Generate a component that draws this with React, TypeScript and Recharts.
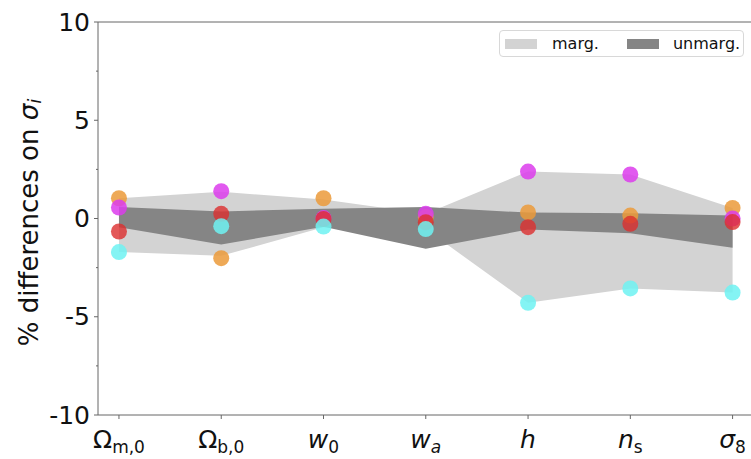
import { Area, ComposedChart, ReferenceLine, Scatter, XAxis, YAxis } from "recharts"

const tickMain = ["Ω", "Ω", "w", "w", "h", "n", "σ"]
const tickSub = ["m,0", "b,0", "0", "a", "", "s", "8"]
const mainItalic = [false, false, true, true, true, true, true]
const subItalic = [false, false, false, true, false, false, false]

const orange = [1.03, -2.02, 1.03, 0.07, 0.31, 0.15, 0.54]
const magenta = [0.56, 1.39, 0.02, 0.24, 2.39, 2.24, 0.0]
const red = [-0.66, 0.24, -0.02, -0.19, -0.44, -0.27, -0.18]
const cyan = [-1.71, -0.39, -0.41, -0.54, -4.29, -3.56, -3.77]

const margLow = [-1.71, -1.9, -0.45, -0.54, -4.29, -3.56, -3.77]
const margHigh = [1.03, 1.36, 0.97, 0.24, 2.39, 2.24, 0.54]
const unmargLow = [-0.44, -1.32, -0.42, -1.54, -0.56, -0.75, -1.49]
const unmargHigh = [0.58, 0.36, 0.5, 0.58, 0.3, 0.27, 0.15]

const yTicks = [-10, -7.5, -5, -2.5, 0, 2.5, 5, 7.5, 10]

const data = tickMain.map((_, i) => ({
  idx: i,
  marg: [margLow[i], margHigh[i]],
  unmarg: [unmargLow[i], unmargHigh[i]],
  orange: orange[i],
  magenta: magenta[i],
  red: red[i],
  cyan: cyan[i],
}))

const FONT = "DejaVu Sans, sans-serif"
const AXIS = "#666666"

function dot(color: string, opacity: number) {
  return (props: any) => (
    <circle cx={props.cx} cy={props.cy} r={8} fill={color} fillOpacity={opacity} />
  )
}

function YTick(props: any) {
  const { x, y, payload } = props
  const v = payload.value
  const major = v % 5 === 0
  return (
    <g>
      <line x1={x - (major ? 4 : 2)} x2={x} y1={y} y2={y} stroke={AXIS} strokeWidth={1} />
      {major && (
        <text x={x - 8} y={y} textAnchor="end" dominantBaseline="central" fontSize={25} fontFamily={FONT} fill="#111">
          {v}
        </text>
      )}
    </g>
  )
}

function XTick(props: any) {
  const { x, y, payload } = props
  const i = payload.value
  return (
    <g>
      <line x1={x} x2={x} y1={y} y2={y + 4} stroke={AXIS} strokeWidth={1} />
      <text x={x} y={y + 33} textAnchor="middle" fontSize={25} fontFamily={FONT} fill="#111">
        <tspan fontStyle={mainItalic[i] ? "italic" : "normal"}>{tickMain[i]}</tspan>
        {tickSub[i] && (
          <tspan fontSize={17} dy={5} fontStyle={subItalic[i] ? "italic" : "normal"}>
            {tickSub[i]}
          </tspan>
        )}
      </text>
    </g>
  )
}

function LegendBox() {
  return (
    <div
      style={{
        position: "absolute",
        top: 30,
        left: 499,
        width: 245,
        height: 27,
        border: "1px solid #d8d8d8",
        borderRadius: 4,
        background: "#fff",
        display: "flex",
        alignItems: "center",
        fontFamily: FONT,
        fontSize: 16,
        color: "#111",
        boxSizing: "border-box",
      }}
    >
      <span style={{ width: 32, height: 10, background: "#d3d3d3", marginLeft: 5 }} />
      <span style={{ marginLeft: 15 }}>marg.</span>
      <span style={{ width: 32, height: 10, background: "#858585", marginLeft: 28 }} />
      <span style={{ marginLeft: 14 }}>unmarg.</span>
    </div>
  )
}

export default function App() {
  return (
    <div style={{ position: "relative", width: 751, height: 459, background: "#fff" }}>
      <style>{"body{margin:0}"}</style>
      <ComposedChart width={751} height={459} data={data} margin={{ top: 22, right: 0, left: 0, bottom: 0 }}>
        <XAxis
          type="number"
          dataKey="idx"
          domain={[-0.205, 6.18]}
          ticks={[0, 1, 2, 3, 4, 5, 6]}
          allowDataOverflow
          height={44}
          tickSize={0}
          tickMargin={0}
          tickLine={false}
          tick={<XTick />}
          stroke={AXIS}
          interval={0}
        />
        <YAxis
          type="number"
          domain={[-10, 10]}
          ticks={yTicks}
          width={98}
          tickSize={0}
          tickMargin={0}
          tickLine={false}
          tick={<YTick />}
          stroke={AXIS}
          interval={0}
          label={{
            content: (p: any) => {
              const vb = p.viewBox
              const cy = vb.y + vb.height / 2 + 4
              return (
                <text
                  x={29}
                  y={cy}
                  transform={`rotate(-90, 29, ${cy})`}
                  textAnchor="middle"
                  dominantBaseline="central"
                  fontSize={26}
                  fontFamily={FONT}
                  fill="#111"
                >
                  % differences on <tspan fontStyle="italic">σ</tspan>
                  <tspan fontSize={18} fontStyle="italic" dy={5}>i</tspan>
                </text>
              )
            },
          }}
        />
        <ReferenceLine y={10} stroke={AXIS} />
        <Area dataKey="marg" type="linear" stroke="none" fill="#d3d3d3" fillOpacity={1} isAnimationActive={false} />
        <Area dataKey="unmarg" type="linear" stroke="none" fill="#858585" fillOpacity={1} isAnimationActive={false} />
        <Scatter dataKey="orange" shape={dot("#eb9a3a", 0.85)} isAnimationActive={false} />
        <Scatter dataKey="magenta" shape={dot("#dc3cec", 0.85)} isAnimationActive={false} />
        <Scatter dataKey="red" shape={dot("#dc2e2e", 0.8)} isAnimationActive={false} />
        <Scatter dataKey="cyan" shape={dot("#6ef2f2", 0.85)} isAnimationActive={false} />
      </ComposedChart>
      <LegendBox />
    </div>
  )
}
